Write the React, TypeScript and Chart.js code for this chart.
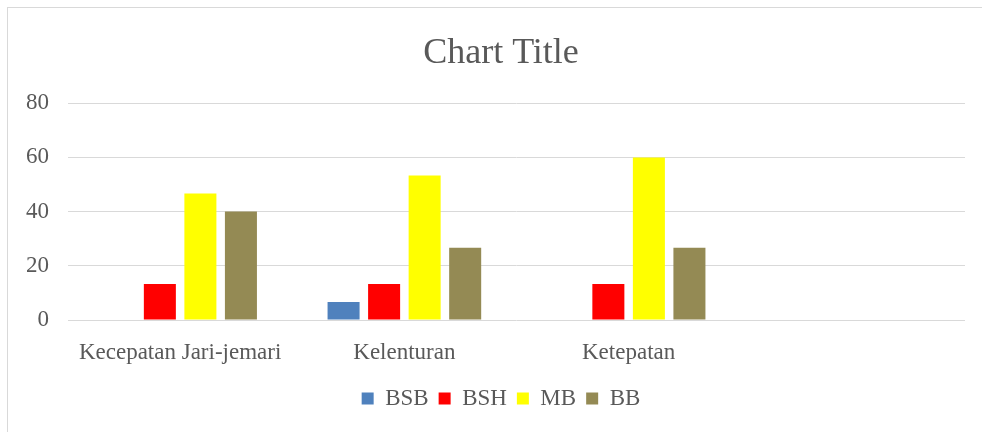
import React, { useEffect, useRef } from "react";
import { Chart, registerables } from "chart.js";

Chart.register(...registerables);

const categories = ["Kecepatan Jari-jemari", "Kelenturan", "Ketepatan", ""];
const seriesNames = ["BSB", "BSH", "MB", "BB"];
const bsb = [0, 6.67, 0, null];
const bsh = [13.33, 13.33, 13.33, null];
const mb = [46.67, 53.33, 60, null];
const bb = [40, 26.67, 26.67, null];
const colors = ["#4F81BD", "#FF0000", "#FFFF00", "#948A54"];
const yTicks = [0, 20, 40, 60, 80];

const FONT = "'Liberation Serif', 'Times New Roman', serif";
const TEXT = "#595959";

export default function App() {
  const ref = useRef<HTMLCanvasElement | null>(null);

  useEffect(() => {
    if (!ref.current) return;
    const values = [bsb, bsh, mb, bb];
    const chart = new Chart(ref.current, {
      type: "bar",
      data: {
        labels: categories,
        datasets: seriesNames.map((name, i) => ({
          label: name,
          data: values[i],
          backgroundColor: colors[i],
          borderWidth: 0,
          barPercentage: 0.79,
          categoryPercentage: 0.723,
        })),
      },
      options: {
        animation: false,
        responsive: false,
        maintainAspectRatio: false,
        layout: { padding: { left: 0, right: 0, top: 0, bottom: 12 } },
        plugins: {
          title: {
            display: true,
            text: "Chart Title",
            color: TEXT,
            font: { family: FONT, size: 36, weight: "normal" },
            padding: { top: 32, bottom: 28 },
          },
          legend: {
            position: "bottom",
            labels: {
              color: TEXT,
              font: { family: FONT, size: 23 },
              boxWidth: 12,
              boxHeight: 12,
              padding: 10,
            },
          },
          tooltip: { enabled: false },
        },
        scales: {
          x: {
            grid: { display: false },
            border: { display: false },
            ticks: {
              color: TEXT,
              font: { family: FONT, size: 23 },
              padding: 11,
              maxRotation: 0,
              autoSkip: false,
            },
            afterFit: (scale: any) => {
              scale.height = 57;
            },
          },
          y: {
            min: 0,
            max: 80,
            afterBuildTicks: (scale: any) => {
              scale.ticks = yTicks.map((v) => ({ value: v }));
            },
            grid: { color: "#D9D9D9", lineWidth: 1, drawTicks: false },
            border: { display: false },
            ticks: {
              color: TEXT,
              font: { family: FONT, size: 23 },
              padding: 19,
            },
            afterFit: (scale: any) => {
              scale.width = 68;
            },
          },
          yRight: {
            display: true,
            position: "right",
            grid: { display: false, drawTicks: false },
            border: { display: false },
            ticks: { display: false },
            afterFit: (scale: any) => {
              scale.width = 37;
            },
          },
        },
      },
    });
    return () => chart.destroy();
  }, []);

  return (
    <div
      style={{
        position: "fixed",
        left: 0,
        top: 0,
        width: 982,
        height: 432,
        overflow: "hidden",
        background: "#fff",
      }}
    >
      <div
        style={{
          position: "absolute",
          left: 7,
          top: 7,
          width: 1000,
          height: 500,
          border: "1px solid #D9D9D9",
          boxSizing: "border-box",
        }}
      />
      <canvas
        ref={ref}
        width={1002}
        height={432}
        style={{ position: "absolute", left: 0, top: 0, width: 1002, height: 432 }}
      />
    </div>
  );
}
